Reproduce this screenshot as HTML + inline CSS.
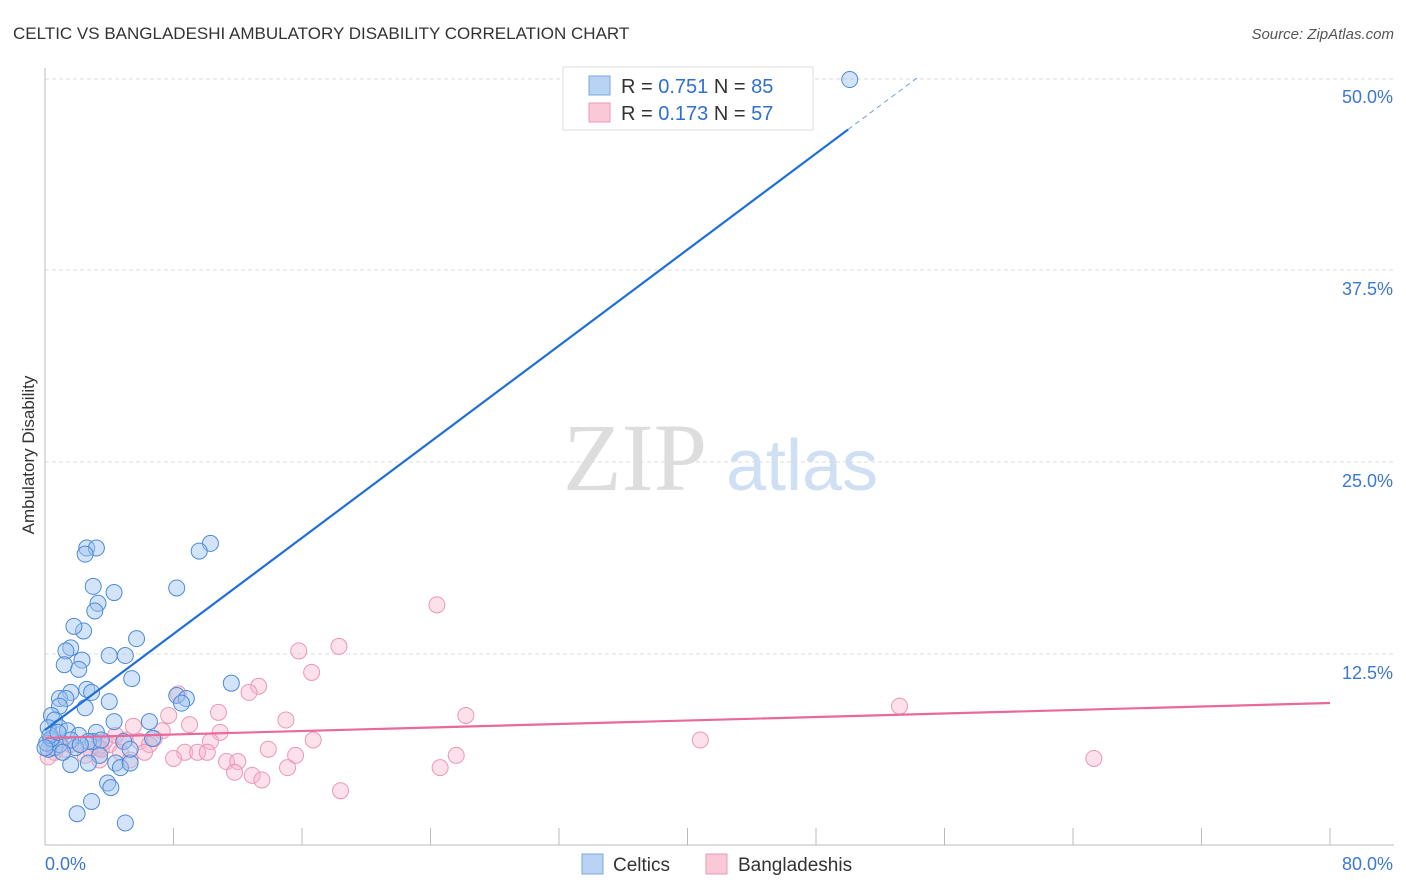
<!DOCTYPE html>
<html><head><meta charset="utf-8"><style>
body{margin:0;background:#fff;font-family:"Liberation Sans",sans-serif}
svg{display:block}
</style></head><body>
<svg id="chart" width="1406" height="892">
<text x="13" y="39" font-size="17" fill="#333">CELTIC VS BANGLADESHI AMBULATORY DISABILITY CORRELATION CHART</text>
<text x="1394" y="39" font-size="15" fill="#555" font-style="italic" text-anchor="end">Source: ZipAtlas.com</text>
<text x="34" y="455" font-size="17" fill="#333" text-anchor="middle" transform="rotate(-90 34 455)">Ambulatory Disability</text>
<g>
<text x="635" y="490" font-size="96" fill="#ddd" font-family="Liberation Serif,serif" text-anchor="middle">ZIP</text>
<text x="802" y="490" font-size="72" fill="#cfe0f4" text-anchor="middle">atlas</text>
</g>
<g id="grid"></g><g id="axes"></g><g id="pts"></g><g id="lines"></g>
<g>
<rect x="563" y="67" width="250" height="63" fill="#fff" stroke="#ddd"/>
<rect x="589" y="76" width="21" height="19" fill="#b9d3f5" stroke="#7aa8e0"/>
<text x="621" y="93" font-size="20" fill="#333">R = <tspan fill="#2f6fd0">0.751</tspan>   N = <tspan fill="#2f6fd0">85</tspan></text>
<rect x="589" y="103" width="21" height="19" fill="#fbc8d8" stroke="#ec9ab4"/>
<text x="621" y="120" font-size="20" fill="#333">R = <tspan fill="#2f6fd0">0.173</tspan>   N = <tspan fill="#2f6fd0">57</tspan></text>
</g>
<g>
<rect x="582" y="854" width="21" height="20" fill="#b9d3f5" stroke="#7aa8e0"/>
<text x="613" y="871" font-size="19" fill="#333">Celtics</text>
<rect x="706" y="854" width="21" height="20" fill="#fbc8d8" stroke="#ec9ab4"/>
<text x="738" y="871" font-size="19" fill="#333">Bangladeshis</text>
</g>
</svg>
<script>
const yTicks=[12.5,25,37.5,50];
const yTickLabels=["12.5%","25.0%","37.5%","50.0%"];
const xTickLabels=["0.0%","80.0%"];
const celticsX=[50.1,2.6,3.2,2.5,10.3,9.6,3.0,4.3,3.3,3.1,8.2,2.4,1.8,1.6,5.7,2.3,1.3,1.2,2.1,4.0,5.0,5.4,11.6,2.6,2.9,1.6,0.9,4.0,1.3,8.2,8.8,8.5,0.9,0.4,4.3,6.5,0.6,0.9,2.5,0.2,0.4,1.4,2.1,3.2,3.0,4.9,6.7,2.7,0.6,0.2,0.9,1.9,3.4,4.4,4.7,5.3,1.6,2.7,3.9,4.1,2.9,2.0,5.0,0.1,0.4,1.6,1.1,0.3,0.8,0.0,2.2,3.5,5.3];
const celticsY=[49.9,19.4,19.4,19.0,19.7,19.2,16.9,16.5,15.8,15.3,16.8,14.0,14.3,12.9,13.5,12.1,12.7,11.8,11.5,12.4,12.4,10.9,10.6,10.2,10.0,10.0,9.6,9.4,9.6,9.8,9.6,9.3,9.1,8.5,8.1,8.1,8.2,7.7,9.0,7.7,6.9,7.5,7.2,7.4,6.8,6.8,7.0,6.8,6.4,6.3,6.6,6.4,5.9,5.4,5.1,5.4,5.3,5.4,4.1,3.8,2.9,2.1,1.5,6.7,7.0,6.9,6.1,7.2,7.4,6.4,6.6,6.9,6.3];
const bangX=[24.4,18.3,15.8,16.6,13.3,12.7,8.3,53.2,26.2,10.8,7.7,15.0,9.0,5.5,7.3,10.9,16.7,40.8,6.8,10.3,13.9,15.6,25.6,65.3,8.7,9.5,10.1,8.0,11.3,12.0,11.8,12.9,13.5,15.1,24.6,18.4,5.0,4.0,3.3,2.2,1.2,0.6,0.2,5.9,6.5,4.7,3.7,2.8,1.6,0.9,5.3,3.4,2.5,6.2,4.4,3.5,0.3];
const bangY=[15.7,13.0,12.7,11.3,10.4,10.0,9.9,9.1,8.5,8.7,8.5,8.2,7.9,7.8,7.5,7.4,6.9,6.9,7.0,6.8,6.3,5.9,5.9,5.7,6.1,6.1,6.1,5.7,5.5,5.5,4.8,4.6,4.3,5.1,5.1,3.6,6.9,6.6,6.4,6.6,6.3,6.1,5.8,6.8,6.6,6.1,6.8,6.3,6.6,6.9,5.6,5.6,5.9,6.1,7.2,6.3,6.6];
const celticsTrend=[7.55,0.782];
const bangTrend=[7.03,0.0285];
const NS="http://www.w3.org/2000/svg";
const X0=45,X1=1330,Y0=846,Y50=78;
const xs=v=>X0+v/80*(X1-X0);
const ys=v=>Y0+v/50*(Y50-Y0);
function mk(t,a,p){const e=document.createElementNS(NS,t);for(const k in a)e.setAttribute(k,a[k]);p.appendChild(e);return e;}
const grid=document.getElementById('grid'),axes=document.getElementById('axes'),pts=document.getElementById('pts'),lines=document.getElementById('lines');
yTicks.forEach((t,i)=>{
 const l=mk('line',{x1:X0,x2:1394,y1:ys(t)+(t===50?1:0),y2:ys(t)+(t===50?1:0),stroke:'#ddd','stroke-dasharray':'4,3'},grid);
 
 
 const tx=mk('text',{x:1393,y:ys(t)+25,'font-size':18,fill:'#3b78d0','text-anchor':'end'},grid);
 tx.textContent=yTickLabels[i];
 
 
});
const ax=mk('line',{x1:X0,x2:1394,y1:845,y2:845,stroke:'#bbb'},axes);


const ay=mk('line',{x1:X0,x2:X0,y1:68,y2:845,stroke:'#bbb'},axes);


for(let v=8;v<=80;v+=8){const tk=mk('line',{x1:xs(v),x2:xs(v),y1:828,y2:845,stroke:'#bbb'},axes);
 
 }
[[0,'start',45],[80,'end',1393]].forEach((d,i)=>{const t=mk('text',{x:d[2],y:870,'font-size':18,fill:'#3b78d0','text-anchor':d[1]},axes);t.textContent=xTickLabels[i];
 
 });
bangX.forEach((x,i)=>{const c=mk('circle',{cx:xs(x),cy:ys(bangY[i]),r:8,fill:'rgba(248,180,202,0.4)',stroke:'#eb98b3','stroke-width':1},pts);
 
 });
celticsX.forEach((x,i)=>{const c=mk('circle',{cx:xs(x),cy:ys(celticsY[i]),r:8,fill:'rgba(160,196,240,0.45)',stroke:'#4c8ad8','stroke-width':1},pts);
 
 });
const xe=50,xd=(50-celticsTrend[0])/celticsTrend[1];
const bl=mk('line',{x1:xs(0),y1:ys(celticsTrend[0]),x2:xs(xe),y2:ys(celticsTrend[0]+celticsTrend[1]*xe),stroke:'#1f6fd8','stroke-width':2.2},lines);


const bd=mk('line',{x1:xs(xe),y1:ys(celticsTrend[0]+celticsTrend[1]*xe),x2:xs(xd),y2:ys(50),stroke:'#6a9fe0','stroke-width':1,'stroke-dasharray':'5,4'},lines);


const pl=mk('line',{x1:xs(0),y1:ys(bangTrend[0]),x2:xs(80),y2:ys(bangTrend[0]+bangTrend[1]*80),stroke:'#e8699a','stroke-width':2.2},lines);


</script>
</body></html>
